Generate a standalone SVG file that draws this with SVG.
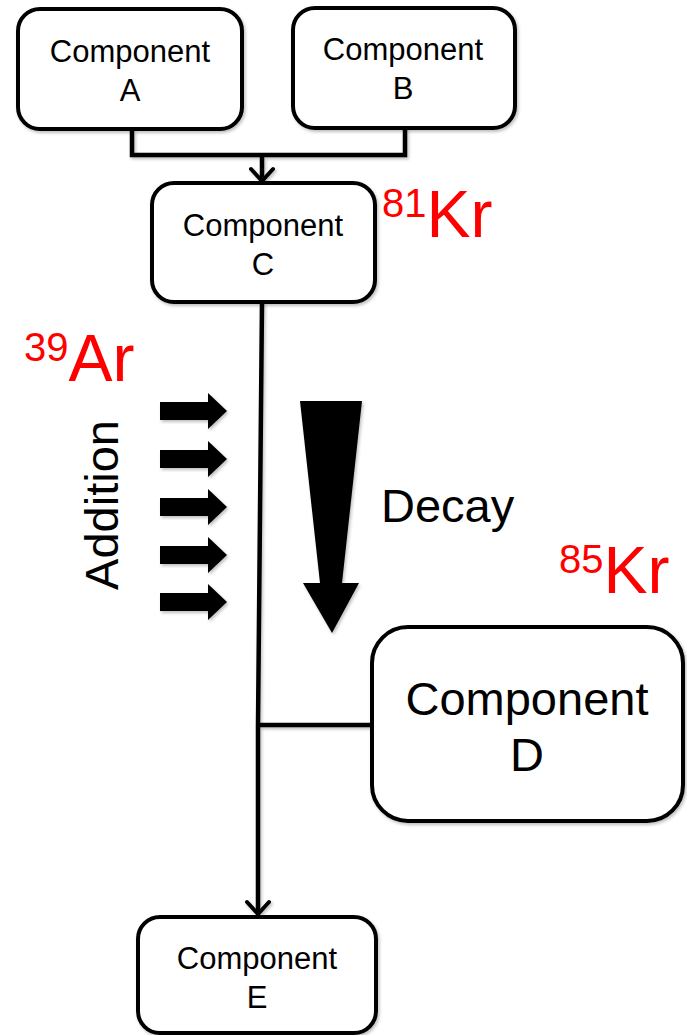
<svg xmlns="http://www.w3.org/2000/svg" width="687" height="1035" viewBox="0 0 687 1035">
  <style>
    .box { fill: #fff; stroke: #000; stroke-width: 4; }
    .wire { fill: none; stroke: #000; stroke-width: 4.5; }
    .lbl { font-family: "Liberation Sans", Arial, sans-serif; fill: #000; text-anchor: middle; }
    .iso { font-family: "Liberation Sans", Arial, sans-serif; fill: #ff0000; }
  </style>
  <defs>
    <filter id="shadow" x="-10%" y="-10%" width="130%" height="130%">
      <feDropShadow dx="1.5" dy="2" stdDeviation="1.5" flood-color="#000" flood-opacity="0.25"/>
    </filter>
    <!-- open chevron head, drawn pointing along +x -->
    <marker id="open" viewBox="0 0 26 26" refX="22" refY="13" markerWidth="26" markerHeight="26" markerUnits="userSpaceOnUse" orient="auto">
      <path d="M10,2 L22,13 L10,24" fill="none" stroke="#000" stroke-width="4" stroke-linecap="round" stroke-linejoin="miter"/>
    </marker>
    <polygon id="push" points="0,-9 48,-9 48,-18 67,0 48,18 48,9 0,9"/>
  </defs>

  <!-- connectors -->
  <g id="connectors" filter="url(#shadow)">
    <path class="wire" d="M132,130 V155 H405 V128"/>
    <path class="wire" d="M262,155 V181" marker-end="url(#open)"/>
    <path class="wire" d="M262,302 L258,725 V914" marker-end="url(#open)"/>
    <path class="wire" d="M256,725 H372"/>
  </g>

  <g id="node-a">
    <rect class="box" x="18" y="9" width="224" height="120" rx="22" filter="url(#shadow)"/>
    <text class="lbl" x="130" y="62" font-size="31">Component</text>
    <text class="lbl" x="130" y="101" font-size="31">A</text>
  </g>

  <g id="node-b">
    <rect class="box" x="293" y="8" width="222" height="120" rx="22" filter="url(#shadow)"/>
    <text class="lbl" x="403" y="60" font-size="31">Component</text>
    <text class="lbl" x="403" y="99" font-size="31">B</text>
  </g>

  <g id="node-c">
    <rect class="box" x="152" y="183" width="223" height="119" rx="22" filter="url(#shadow)"/>
    <text class="lbl" x="263" y="236" font-size="31">Component</text>
    <text class="lbl" x="263" y="275" font-size="31">C</text>
  </g>

  <g id="node-d">
    <rect class="box" x="372" y="627" width="311" height="194" rx="36" filter="url(#shadow)"/>
    <text class="lbl" x="527" y="715" font-size="47">Component</text>
    <text class="lbl" x="527" y="771" font-size="47">D</text>
  </g>

  <g id="node-e">
    <rect class="box" x="138" y="917" width="238" height="116" rx="22" filter="url(#shadow)"/>
    <text class="lbl" x="257" y="969" font-size="31">Component</text>
    <text class="lbl" x="257" y="1008" font-size="31">E</text>
  </g>

  <!-- isotope labels -->
  <text class="iso" x="382" y="237"><tspan font-size="40" dy="-20">81</tspan><tspan font-size="66" dy="20">Kr</tspan></text>
  <text class="iso" x="24" y="381"><tspan font-size="40" dy="-20">39</tspan><tspan font-size="66" dy="20">Ar</tspan></text>
  <text class="iso" x="559" y="593"><tspan font-size="40" dy="-20">85</tspan><tspan font-size="66" dy="20">Kr</tspan></text>

  <!-- addition arrows -->
  <g id="addition" filter="url(#shadow)">
    <use href="#push" x="160" y="411"/>
    <use href="#push" x="160" y="459"/>
    <use href="#push" x="160" y="507"/>
    <use href="#push" x="160" y="555"/>
    <use href="#push" x="160" y="602"/>
  </g>
  <text class="lbl" font-size="47" transform="translate(118,505) rotate(-90)">Addition</text>

  <!-- decay arrow -->
  <polygon id="decay-arrow" points="300,401 362,401 342,583 359,583 332,633 303,583 320,583" fill="#000" filter="url(#shadow)"/>
  <text class="lbl" x="381" y="522" font-size="47" style="text-anchor:start">Decay</text>
</svg>
